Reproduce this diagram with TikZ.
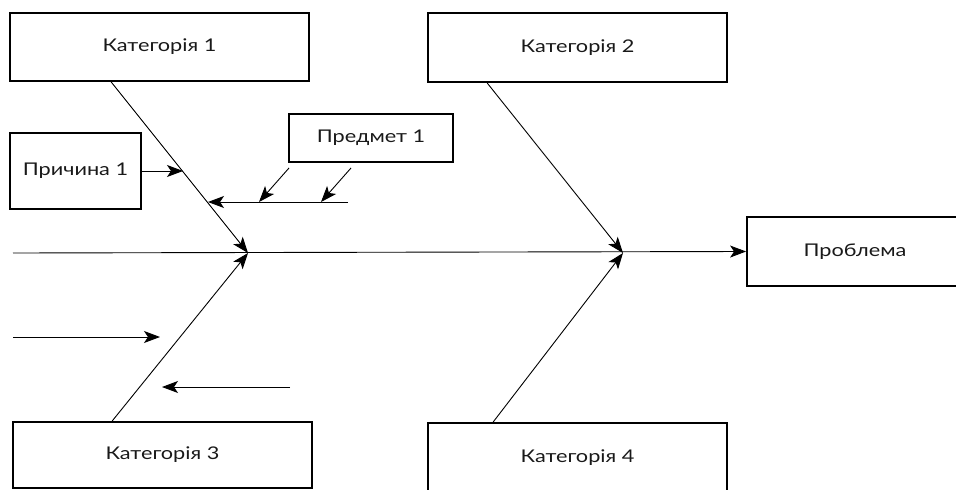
\documentclass[tikz,border=0pt]{standalone}
\usepackage{fontspec}
\setmainfont[FakeStretch=1.24]{Lato}
\usetikzlibrary{arrows.meta}

\begin{document}
\begin{tikzpicture}[
    x=1pt, y=-1pt,
    >={Stealth[length=16pt, width=12pt, inset=4pt]},
    line width=0.9pt,
    every node/.style={font=\fontsize{17.5}{20}\selectfont, text=black!90},
    box/.style={draw, line width=1.8pt, inner sep=0pt, minimum width=299pt}
]
    \useasboundingbox (0,0) rectangle (956,490);

    \node[box, minimum height=68pt] (kat1) at (159.5,47) {Категорія 1};
    \node[box, minimum height=69pt] (kat2) at (577.5,47.5) {Категорія 2};
    \node[box, minimum height=66pt] (kat3) at (162.5,455) {Категорія 3};
    \node[box, minimum height=70pt] (kat4) at (577.5,458) {Категорія 4};
    \node[box, minimum width=131pt, minimum height=76pt] (prich) at (75.5,171) {Причина 1};
    \node[box, minimum width=164pt, minimum height=48pt] (predm) at (371,138) {Предмет 1};
    \node[box, minimum width=216pt, minimum height=69pt] (probl) at (855,251.5) {Проблема};

    \coordinate (tail) at (13,253);
    \coordinate (j1) at (248,253);
    \coordinate (j2) at (623,253);
    \coordinate (p1) at (183,171);
    \coordinate (s0) at (208,202);
    \coordinate (s1) at (348,202);
    \coordinate (q1) at (259,202);
    \coordinate (q2) at (321,202);
    \coordinate (l0) at (13,337);
    \coordinate (l1) at (160,337);
    \coordinate (r0) at (290,387);
    \coordinate (r1) at (162,387);

    % spine and bones
    \draw[->] (tail) -- (probl.west);
    \draw[->] ([xshift=102pt]kat1.south west) -- (j1);
    \draw[->] ([xshift=60pt]kat2.south west) -- (j2);
    \draw[->] ([xshift=100pt]kat3.north west) -- (j1);
    \draw[->] ([xshift=66pt]kat4.north west) -- (j2);

    % causes
    \draw[->] (prich.east) -- (p1);
    \draw[->] (s1) -- (s0);
    \draw[->] ([xshift=1pt, yshift=-5pt]predm.south west) -- (q1);
    \draw[->] ([xshift=63pt, yshift=-5pt]predm.south west) -- (q2);
    \draw[->] (l0) -- (l1);
    \draw[->] (r0) -- (r1);
\end{tikzpicture}
\end{document}
